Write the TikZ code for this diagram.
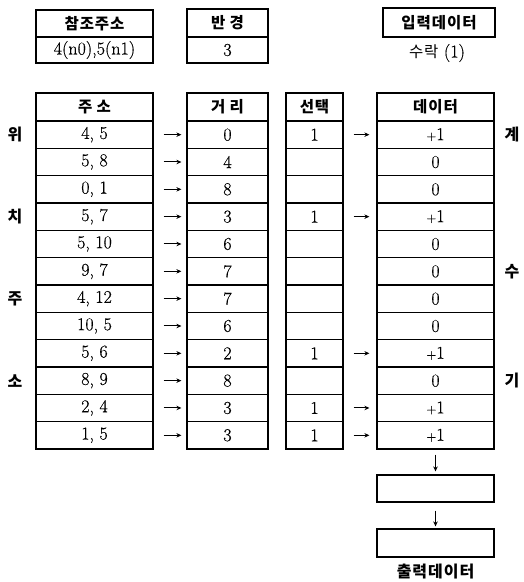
\documentclass[tikz,border=0pt]{standalone}
\usepackage{fontspec}
\setmainfont{Latin Modern Roman}[FakeBold=0.5]
\newfontfamily\kr{Noto Sans CJK KR}[LetterSpace=6]
\usetikzlibrary{arrows.meta}
\newcommand\pone{{\fontsize{13}{13}\selectfont+}1}
\begin{document}
\begin{tikzpicture}[x=1pt,y=-1pt,
  cell/.style={draw, line width=1.2pt, inner sep=0pt, minimum height=27.33pt, font=\fontsize{18}{18}\selectfont},
  hdr/.style={cell, minimum height=28pt, font=\kr\bfseries\fontsize{15.5}{15.5}\selectfont},
  lab/.style={inner sep=0pt, font=\kr\bfseries\fontsize{16}{16}\selectfont},
  arr/.style={-{Stealth[length=5pt,width=4.5pt]}, line width=1pt},
]
\useasboundingbox (0,0) rectangle (524,582);
% top boxes
\node[hdr, minimum width=117pt, minimum height=27pt] (rh) at (94.5,23.5) {참조주소};
\node[cell, minimum width=117pt, minimum height=26pt] (rv) at (94.5,50) {4(n0),5(n1)};
\node[hdr, minimum width=81pt] (bh) at (227.5,23) {반 경};
\node[cell, minimum width=81pt, minimum height=26pt] (bv) at (227.5,50) {3};
\node[hdr, minimum width=112pt, minimum height=29pt] (ih) at (439,22.5) {입력데이터};
\node[inner sep=0pt, font=\fontsize{18}{18}\selectfont] (iv) at (437,53) {{\kr\fontsize{15.5}{15.5}\selectfont 수락} (1)};
% headers
\node[hdr, minimum width=117pt] (ha) at (94.5,107) {주 소};
\node[hdr, minimum width=81pt] (hd) at (227.5,107) {거 리};
\node[hdr, minimum width=57pt] (hs) at (314.5,107) {선택};
\node[hdr, minimum width=117pt] (hv) at (435.5,107) {데이터};
% rows
\foreach \i/\ad/\di/\se/\va in {1/{4, 5}/0/1/\pone, 2/{5, 8}/4/{}/0, 3/{0, 1}/8/{}/0, 4/{5, 7}/3/1/\pone, 5/{5, 10}/6/{}/0, 6/{9, 7}/7/{}/0, 7/{4, 12}/7/{}/0, 8/{10, 5}/6/{}/0, 9/{5, 6}/2/1/\pone, 10/{8, 9}/8/{}/0, 11/{2, 4}/3/1/\pone, 12/{1, 5}/3/1/\pone}{
  \pgfmathsetmacro\yy{121+27.33*(\i-0.5)}
  \node[cell, minimum width=117pt] (a\i) at (94.5,\yy) {\ad};
  \node[cell, minimum width=81pt] (d\i) at (227.5,\yy) {\di};
  \node[cell, minimum width=57pt] (s\i) at (314.5,\yy) {\se};
  \node[cell, minimum width=117pt] (v\i) at (435.5,\yy) {\va};
  \draw[arr, shorten <=10pt, shorten >=5pt] (a\i) -- (d\i);
}
\foreach \i in {1,4,9,11,12}{
  \draw[arr, shorten <=10pt, shorten >=7pt] (s\i) -- (v\i);
}
% side labels
\node[lab] (l1) at (15,134.7) {위};
\node[lab] (l2) at (15,216.7) {치};
\node[lab] (l3) at (15,298.7) {주};
\node[lab] (l4) at (15,380.7) {소};
\node[lab] (r1) at (512,134.7) {계};
\node[lab] (r2) at (512,271.3) {수};
\node[lab] (r3) at (512,380.7) {기};
% output chain
\node[cell, minimum width=117pt, minimum height=27pt] (o1) at (435.5,488.5) {};
\node[cell, minimum width=117pt, minimum height=28pt] (o2) at (435.5,543) {};
\node[lab] (ot) at (435.5,572) {출력데이터};
\draw[arr, shorten <=5pt, shorten >=3pt] (v12) -- (o1);
\draw[arr, shorten <=8pt, shorten >=2pt] (o1) -- (o2);
\end{tikzpicture}
\end{document}
